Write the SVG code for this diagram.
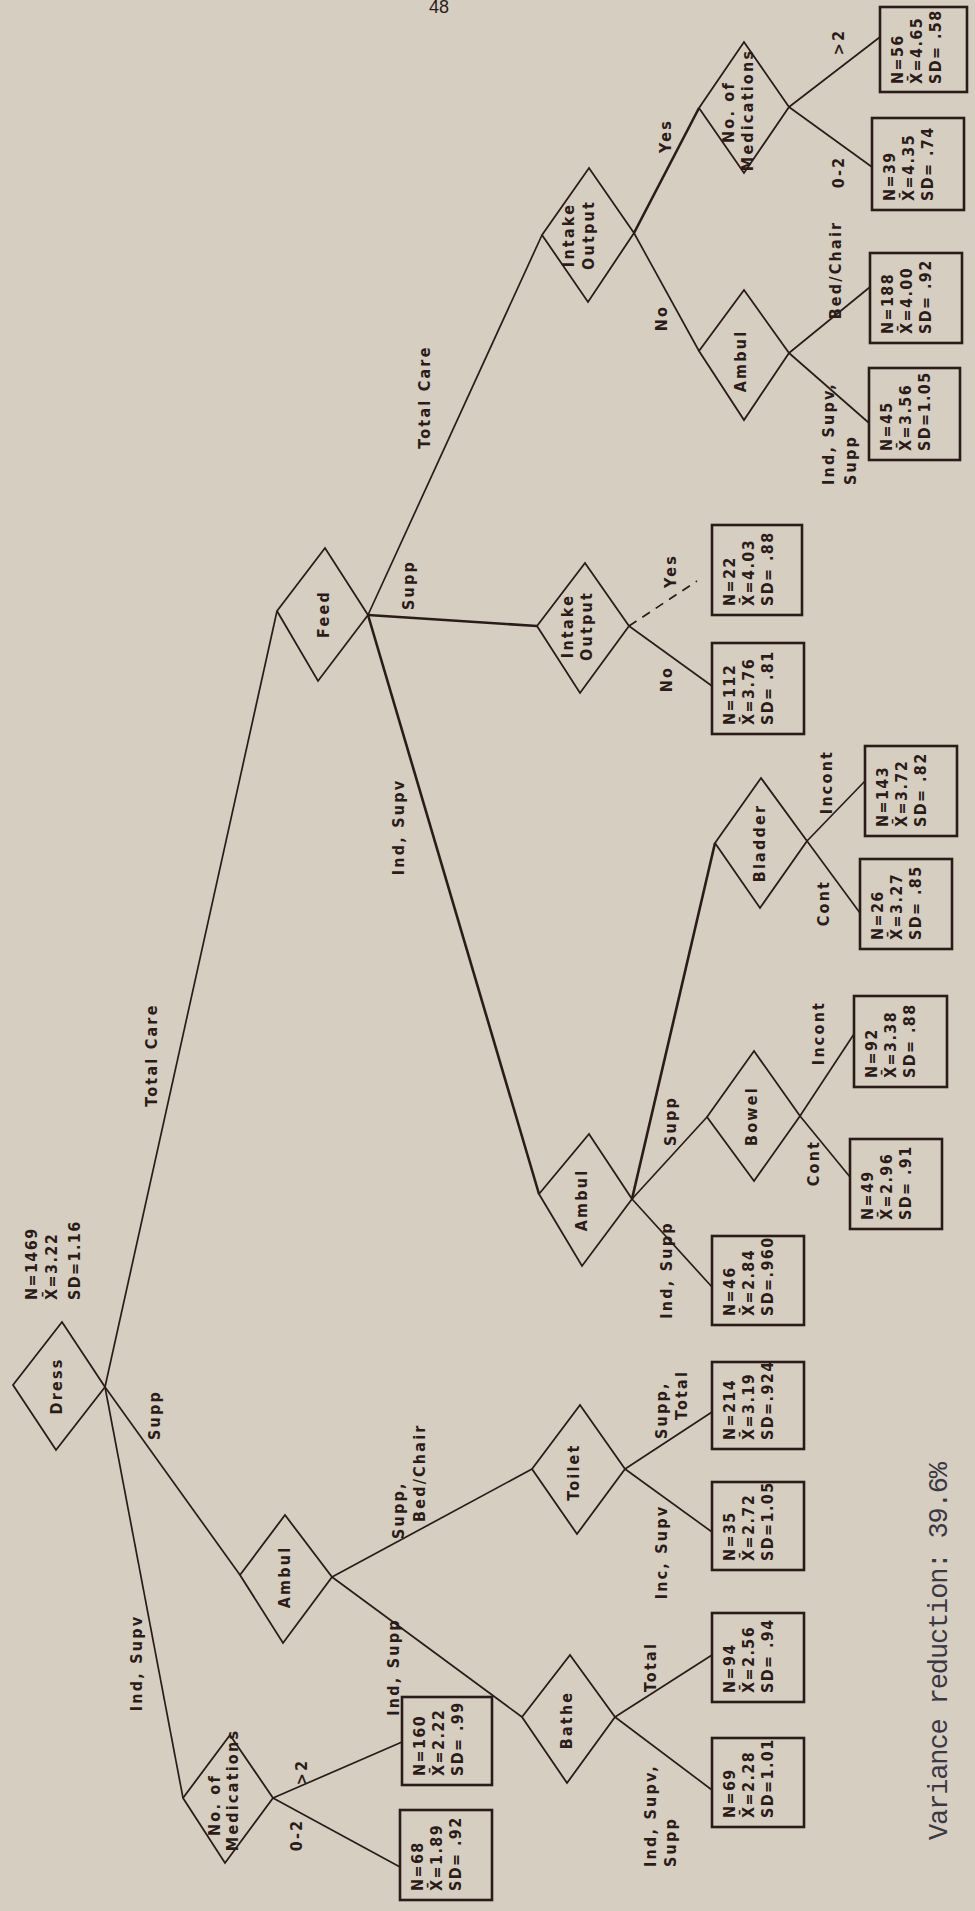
<svg xmlns="http://www.w3.org/2000/svg" width="975" height="1911" viewBox="0 0 975 1911">
<style>
.bg{fill:#d6cec1}
.d{fill:none;stroke:#2b1c19;stroke-width:1.8;stroke-linejoin:miter}
.b{fill:none;stroke:#2b1c19;stroke-width:2.6}
.c{fill:none;stroke:#2b1c19;stroke-width:1.7}
.k{fill:none;stroke:#2b1c19;stroke-width:2.6}
.dash{fill:none;stroke:#2b1c19;stroke-width:1.7;stroke-dasharray:9 7}
.t{font-family:"Liberation Sans Narrow","DejaVu Sans Condensed","Liberation Sans",sans-serif;font-weight:bold;font-size:16px;letter-spacing:2.2px;fill:#2b1c19}
.l text{letter-spacing:1.4px}
.m{text-anchor:middle}
.v{font-family:"Liberation Mono","DejaVu Sans Mono",monospace;font-size:27px;fill:#3a3844}
.p{font-family:"Liberation Sans",sans-serif;font-size:18px;fill:#2b1c19}
</style>
<rect class="bg" x="0" y="0" width="975" height="1911"/>
<text class="p" x="429" y="13">48</text>

<g id="connectors">
<line class="c" x1="105" y1="1387" x2="277" y2="611"/>
<line class="c" x1="105" y1="1387" x2="240" y2="1575"/>
<line class="c" x1="105" y1="1387" x2="183" y2="1798"/>
<line class="c" x1="368" y1="615" x2="542" y2="235"/>
<line class="k" x1="368" y1="615" x2="537" y2="626"/>
<line class="k" x1="368" y1="615" x2="539" y2="1194"/>
<line class="k" x1="634" y1="233" x2="699" y2="108"/>
<line class="c" x1="634" y1="233" x2="699" y2="351"/>
<line class="c" x1="789" y1="107" x2="880" y2="37"/>
<line class="c" x1="789" y1="107" x2="872" y2="167"/>
<line class="c" x1="789" y1="353" x2="870" y2="287"/>
<line class="c" x1="789" y1="353" x2="869" y2="423"/>
<line class="dash" x1="629" y1="626" x2="697" y2="581"/>
<line class="c" x1="629" y1="626" x2="712" y2="686"/>
<line class="k" x1="632" y1="1199" x2="715" y2="843"/>
<line class="c" x1="632" y1="1199" x2="707" y2="1117"/>
<line class="c" x1="632" y1="1199" x2="712" y2="1287"/>
<line class="c" x1="800" y1="1116" x2="854" y2="1034"/>
<line class="c" x1="800" y1="1116" x2="850" y2="1177"/>
<line class="c" x1="807" y1="841" x2="865" y2="781"/>
<line class="c" x1="807" y1="841" x2="860" y2="913"/>
<line class="c" x1="332" y1="1577" x2="532" y2="1469"/>
<line class="c" x1="332" y1="1577" x2="522" y2="1717"/>
<line class="c" x1="625" y1="1469" x2="712" y2="1412"/>
<line class="c" x1="625" y1="1469" x2="712" y2="1532"/>
<line class="c" x1="615" y1="1717" x2="712" y2="1655"/>
<line class="c" x1="615" y1="1717" x2="712" y2="1790"/>
<line class="c" x1="273" y1="1798" x2="402" y2="1742"/>
<line class="c" x1="273" y1="1798" x2="400" y2="1867"/>
</g>

<g id="edge-labels" class="t">
<text class="m" transform="translate(157 1055) rotate(-90)">Total Care</text>
<text class="m" transform="translate(160 1415) rotate(-90)">Supp</text>
<text class="m" transform="translate(142 1663) rotate(-90)">Ind, Supv</text>
<text class="m" transform="translate(430 397) rotate(-90)">Total Care</text>
<text class="m" transform="translate(414 585) rotate(-90)">Supp</text>
<text class="m" transform="translate(404 827) rotate(-90)">Ind, Supv</text>
<text class="m" transform="translate(671 136) rotate(-90)">Yes</text>
<text class="m" transform="translate(667 318) rotate(-90)">No</text>
<text class="m" transform="translate(844 42) rotate(-90)">&gt;2</text>
<text class="m" transform="translate(844 172) rotate(-90)">0-2</text>
<text class="m" transform="translate(841 270) rotate(-90)">Bed/Chair</text>
<text transform="translate(834 485) rotate(-90)">Ind, Supv,</text>
<text transform="translate(856 485) rotate(-90)">Supp</text>
<text class="m" transform="translate(676 571) rotate(-90)">Yes</text>
<text class="m" transform="translate(672 679) rotate(-90)">No</text>
<text class="m" transform="translate(832 782) rotate(-90)">Incont</text>
<text class="m" transform="translate(829 903) rotate(-90)">Cont</text>
<text class="m" transform="translate(676 1121) rotate(-90)">Supp</text>
<text class="m" transform="translate(824 1033) rotate(-90)">Incont</text>
<text class="m" transform="translate(819 1163) rotate(-90)">Cont</text>
<text class="m" transform="translate(672 1270) rotate(-90)">Ind, Supp</text>
<text transform="translate(404 1539) rotate(-90)">Supp,</text>
<text transform="translate(425 1522) rotate(-90)">Bed/Chair</text>
<text class="m" transform="translate(399 1667) rotate(-90)">Ind, Supp</text>
<text transform="translate(667 1439) rotate(-90)">Supp,</text>
<text transform="translate(687 1420) rotate(-90)">Total</text>
<text class="m" transform="translate(667 1552) rotate(-90)">Inc, Supv</text>
<text class="m" transform="translate(656 1667) rotate(-90)">Total</text>
<text transform="translate(656 1867) rotate(-90)">Ind, Supv,</text>
<text transform="translate(676 1867) rotate(-90)">Supp</text>
<text class="m" transform="translate(307 1772) rotate(-90)">&gt;2</text>
<text class="m" transform="translate(302 1835) rotate(-90)">0-2</text>
</g>

<g id="node-dress" class="t">
<polygon class="d" points="13,1385 62,1322 105,1387 56,1450"/>
<text class="m" transform="translate(62 1386) rotate(-90)">Dress</text>
<g class="l">
<text transform="translate(37 1300) rotate(-90)">N=1469</text>
<text transform="translate(57 1300) rotate(-90)">X&#x304;=3.22</text>
<text transform="translate(80 1300) rotate(-90)">SD=1.16</text>
</g>
</g>
<g id="node-medications-left" class="t">
<polygon class="d" points="183,1798 230,1735 273,1798 225,1863"/>
<text class="m" transform="translate(220 1805) rotate(-90)">No. of</text>
<text class="m" transform="translate(238 1790) rotate(-90)">Medications</text>
</g>
<g id="node-ambul-left" class="t">
<polygon class="d" points="240,1575 285,1515 332,1577 283,1643"/>
<text class="m" transform="translate(290 1577) rotate(-90)">Ambul</text>
</g>
<g id="node-bathe" class="t">
<polygon class="d" points="522,1717 570,1655 615,1717 567,1783"/>
<text class="m" transform="translate(572 1720) rotate(-90)">Bathe</text>
</g>
<g id="node-toilet" class="t">
<polygon class="d" points="532,1469 580,1405 625,1469 577,1534"/>
<text class="m" transform="translate(579 1472) rotate(-90)">Toilet</text>
</g>
<g id="node-feed" class="t">
<polygon class="d" points="277,611 325,548 368,615 318,681"/>
<text class="m" transform="translate(329 614) rotate(-90)">Feed</text>
</g>
<g id="node-ambul-mid" class="t">
<polygon class="d" points="539,1194 589,1134 632,1199 582,1266"/>
<text class="m" transform="translate(587 1200) rotate(-90)">Ambul</text>
</g>
<g id="node-bowel" class="t">
<polygon class="d" points="707,1117 754,1051 800,1116 754,1181"/>
<text class="m" transform="translate(757 1116) rotate(-90)">Bowel</text>
</g>
<g id="node-bladder" class="t">
<polygon class="d" points="715,843 761,778 807,841 760,908"/>
<text class="m" transform="translate(765 843) rotate(-90)">Bladder</text>
</g>
<g id="node-intake-supp" class="t">
<polygon class="d" points="537,626 585,563 629,626 580,693"/>
<text class="m" transform="translate(573 626) rotate(-90)">Intake</text>
<text class="m" transform="translate(592 626) rotate(-90)">Output</text>
</g>
<g id="node-intake-total" class="t">
<polygon class="d" points="542,235 589,168 634,233 588,302"/>
<text class="m" transform="translate(574 235) rotate(-90)">Intake</text>
<text class="m" transform="translate(594 235) rotate(-90)">Output</text>
</g>
<g id="node-ambul-right" class="t">
<polygon class="d" points="699,351 744,290 789,353 744,420"/>
<text class="m" transform="translate(746 361) rotate(-90)">Ambul</text>
</g>
<g id="node-medications-right" class="t">
<polygon class="d" points="699,108 744,42 789,107 744,173"/>
<text class="m" transform="translate(734 112) rotate(-90)">No. of</text>
<text class="m" transform="translate(753 110) rotate(-90)">Medications</text>
</g>

<g id="leaf-n56" class="t l"><rect class="b" x="880" y="7" width="87" height="85"/>
<text transform="translate(903 84) rotate(-90)">N=56</text><text transform="translate(922 84) rotate(-90)">X&#x304;=4.65</text><text transform="translate(941 84) rotate(-90)">SD= .58</text></g>
<g id="leaf-n39" class="t l"><rect class="b" x="872" y="118" width="92" height="92"/>
<text transform="translate(895 201) rotate(-90)">N=39</text><text transform="translate(914 201) rotate(-90)">X&#x304;=4.35</text><text transform="translate(933 201) rotate(-90)">SD= .74</text></g>
<g id="leaf-n188" class="t l"><rect class="b" x="870" y="253" width="92" height="90"/>
<text transform="translate(893 334) rotate(-90)">N=188</text><text transform="translate(912 334) rotate(-90)">X&#x304;=4.00</text><text transform="translate(931 334) rotate(-90)">SD= .92</text></g>
<g id="leaf-n45" class="t l"><rect class="b" x="869" y="368" width="91" height="92"/>
<text transform="translate(892 451) rotate(-90)">N=45</text><text transform="translate(911 451) rotate(-90)">X&#x304;=3.56</text><text transform="translate(930 451) rotate(-90)">SD=1.05</text></g>
<g id="leaf-n22" class="t l"><rect class="b" x="712" y="525" width="90" height="90"/>
<text transform="translate(735 606) rotate(-90)">N=22</text><text transform="translate(754 606) rotate(-90)">X&#x304;=4.03</text><text transform="translate(773 606) rotate(-90)">SD= .88</text></g>
<g id="leaf-n112" class="t l"><rect class="b" x="712" y="643" width="92" height="91"/>
<text transform="translate(735 725) rotate(-90)">N=112</text><text transform="translate(754 725) rotate(-90)">X&#x304;=3.76</text><text transform="translate(773 725) rotate(-90)">SD= .81</text></g>
<g id="leaf-n143" class="t l"><rect class="b" x="865" y="746" width="92" height="90"/>
<text transform="translate(888 827) rotate(-90)">N=143</text><text transform="translate(907 827) rotate(-90)">X&#x304;=3.72</text><text transform="translate(926 827) rotate(-90)">SD= .82</text></g>
<g id="leaf-n26" class="t l"><rect class="b" x="860" y="859" width="92" height="90"/>
<text transform="translate(883 940) rotate(-90)">N=26</text><text transform="translate(902 940) rotate(-90)">X&#x304;=3.27</text><text transform="translate(921 940) rotate(-90)">SD= .85</text></g>
<g id="leaf-n92" class="t l"><rect class="b" x="854" y="996" width="93" height="91"/>
<text transform="translate(877 1078) rotate(-90)">N=92</text><text transform="translate(896 1078) rotate(-90)">X&#x304;=3.38</text><text transform="translate(915 1078) rotate(-90)">SD= .88</text></g>
<g id="leaf-n49" class="t l"><rect class="b" x="850" y="1139" width="92" height="90"/>
<text transform="translate(873 1220) rotate(-90)">N=49</text><text transform="translate(892 1220) rotate(-90)">X&#x304;=2.96</text><text transform="translate(911 1220) rotate(-90)">SD= .91</text></g>
<g id="leaf-n46" class="t l"><rect class="b" x="712" y="1236" width="92" height="89"/>
<text transform="translate(735 1316) rotate(-90)">N=46</text><text transform="translate(754 1316) rotate(-90)">X&#x304;=2.84</text><text transform="translate(773 1316) rotate(-90)">SD=.960</text></g>
<g id="leaf-n214" class="t l"><rect class="b" x="712" y="1362" width="92" height="87"/>
<text transform="translate(735 1440) rotate(-90)">N=214</text><text transform="translate(754 1440) rotate(-90)">X&#x304;=3.19</text><text transform="translate(773 1440) rotate(-90)">SD=.924</text></g>
<g id="leaf-n35" class="t l"><rect class="b" x="712" y="1482" width="92" height="88"/>
<text transform="translate(735 1561) rotate(-90)">N=35</text><text transform="translate(754 1561) rotate(-90)">X&#x304;=2.72</text><text transform="translate(773 1561) rotate(-90)">SD=1.05</text></g>
<g id="leaf-n94" class="t l"><rect class="b" x="712" y="1613" width="92" height="89"/>
<text transform="translate(735 1693) rotate(-90)">N=94</text><text transform="translate(754 1693) rotate(-90)">X&#x304;=2.56</text><text transform="translate(773 1693) rotate(-90)">SD= .94</text></g>
<g id="leaf-n69" class="t l"><rect class="b" x="712" y="1738" width="92" height="89"/>
<text transform="translate(735 1818) rotate(-90)">N=69</text><text transform="translate(754 1818) rotate(-90)">X&#x304;=2.28</text><text transform="translate(773 1818) rotate(-90)">SD=1.01</text></g>
<g id="leaf-n160" class="t l"><rect class="b" x="402" y="1697" width="90" height="88"/>
<text transform="translate(425 1776) rotate(-90)">N=160</text><text transform="translate(444 1776) rotate(-90)">X&#x304;=2.22</text><text transform="translate(463 1776) rotate(-90)">SD= .99</text></g>
<g id="leaf-n68" class="t l"><rect class="b" x="400" y="1810" width="92" height="90"/>
<text transform="translate(423 1891) rotate(-90)">N=68</text><text transform="translate(442 1891) rotate(-90)">X&#x304;=1.89</text><text transform="translate(461 1891) rotate(-90)">SD= .92</text></g>

<text class="v" transform="translate(947 1840) rotate(-90)" textLength="378">Variance reduction: 39.6%</text>
</svg>
